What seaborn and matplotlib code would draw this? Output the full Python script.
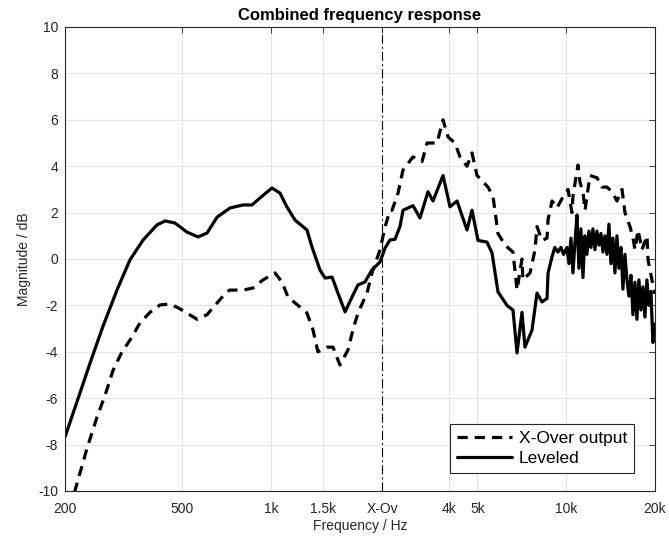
import numpy as np
import pandas as pd
import matplotlib
matplotlib.use("Agg")
import matplotlib.pyplot as plt
import seaborn as sns

# ---- data ----
xover_freq = 2380

lev_freq = [200, 219, 243, 269, 300, 332, 368, 410, 437, 472, 518, 565, 606, 655, 725,
            803, 861, 916, 1006, 1071, 1131, 1204, 1322, 1375, 1463, 1522, 1608, 1684,
            1780, 1879, 1968, 2079, 2196, 2338, 2431, 2528, 2629, 2732, 2798, 3025,
            3194, 3401, 3536, 3823, 4037, 4265, 4610, 4794, 5024, 5390, 5605, 5872,
            6300, 6601, 6812, 7081, 7249, 7659, 7962, 8280, 8610, 8680, 8954, 9150,
            9380, 9600, 9800,
            10060, 10218, 10379, 10542, 10708, 10876, 11047, 11221, 11397, 11576, 11758,
            11943, 12131, 12322, 12516, 12713, 12913, 13116, 13322, 13531, 13744, 13960,
            14180, 14403, 14629, 14859, 15093, 15330, 15571, 15816, 16065, 16318, 16574,
            16835, 17100, 17369, 17642, 17919, 18201, 18487, 18778, 19073, 19373, 19678,
            20000]
lev_db = [-7.67, -6.2, -4.5, -2.9, -1.34, -0.04, 0.82, 1.47, 1.64, 1.55, 1.16, 0.95, 1.12, 1.8, 2.2,
          2.33, 2.33, 2.63, 3.06, 2.84, 2.24, 1.68, 1.25, 0.52, -0.47, -0.82, -0.78, -1.47,
          -2.28, -1.64, -1.12, -0.99, -0.47, -0.13, 0.47, 0.82, 0.85, 1.4, 2.1, 2.3,
          1.77, 2.9, 2.5, 3.6, 2.25, 2.5, 1.25, 2.1, 0.8, 0.73, 0.26, -1.42,
          -2.0, -2.2, -4.05, -2.3, -3.8, -3.06, -1.47, -1.85, -1.7, -0.6, 0.1, 0.5,
          0.3, 0.5, 0.2,
          0.5, -0.2, 0.9, -0.6, 0.7, 1.9, -0.4, 1.3, -0.8, 1.0, 0.2,
          1.2, 0.5, 1.3, 0.4, 1.2, 0.6, 1.1, 0.3, 1.0, 0.2, 1.5,
          -0.2, 0.9, -0.6, 1.0, -0.4, 0.5, -1.3, 0.2, -0.9, -1.6, -0.7,
          -2.4, -1.0, -2.6, -0.9, -2.2, -1.2, -2.5, -0.9, -2.0, -1.4, -3.6,
          -2.8]

xo_freq = [200, 216, 237, 257, 273, 291, 312, 332, 359, 388, 420, 454, 483, 518, 561, 606,
           655, 708, 725, 803, 868, 938, 1030, 1088, 1140, 1252, 1322, 1386, 1440, 1546,
           1620, 1710, 1821, 1892, 1968, 2112, 2196, 2338, 2431, 2528, 2568, 2691,
           2798, 3025, 3246, 3374, 3648, 3823, 3975, 4198, 4366, 4610, 4794, 4985, 5432,
           5648, 5872, 6200, 6601, 6812, 7081, 7136, 7541, 7841, 7962, 8280, 8610, 8680,
           8954, 9300, 9680, 10140, 10460, 10540, 10960, 11140, 11400, 11580, 12040, 12720,
           13220, 13750, 14300, 14860, 15460, 15820, 16450, 16840, 17110, 17510, 18070,
           18790, 18940, 19530, 20000]
xo_db = [-11.5, -10.0, -8.2, -6.8, -5.9, -4.8, -4.0, -3.5, -2.76, -2.3, -1.98, -1.94, -2.1, -2.33, -2.6, -2.4,
         -1.9, -1.4, -1.34, -1.34, -1.25, -0.9, -0.6, -0.99, -1.64, -2.07, -2.33, -3.06, -4.0, -3.8,
         -3.8, -4.57, -3.92, -3.06, -2.33, -1.47, -0.6, 0.39, 1.38, 2.1, 2.1, 2.84,
         3.84, 4.4, 4.2, 5.0, 5.0, 6.0, 5.26, 5.0, 4.4, 4.0, 4.57, 3.6, 3.1,
         2.7, 1.1, 0.6, 0.3, -1.34, 0.0, -0.9, -0.6, 0.4, 1.4, 0.8, 0.9, 1.7,
         2.5, 2.2, 2.6, 3.0, 2.0, 2.7, 4.05, 3.3, 2.9, 2.1, 3.6, 3.5,
         3.1, 3.1, 2.9, 2.5, 3.0, 2.0, 1.4, 0.9, 0.4, 1.25, 0.4,
         1.0, -0.04, -0.9, -1.5]

xtick_vals = [200, 500, 1000, 1500, xover_freq, 4000, 5000, 10000, 20000]
xtick_labels = ["200", "500", "1k", "1.5k", "X-Ov", "4k", "5k", "10k", "20k"]
ytick_vals = list(range(-10, 11, 2))

# ---- plotting ----
sns.set_theme(style="whitegrid")
plt.rcParams["font.family"] = ["Liberation Sans", "DejaVu Sans"]
plt.rcParams["axes.unicode_minus"] = False

fig = plt.figure(figsize=(6.69, 5.44), dpi=100)
ax = fig.add_axes([65/669, 1-491/544, (655-65)/669, (491-27)/544])

df_xo = pd.DataFrame({"f": xo_freq, "db": xo_db})
df_lev = pd.DataFrame({"f": lev_freq, "db": lev_db})

sns.lineplot(data=df_xo, x="f", y="db", ax=ax, color="black", lw=2.3,
             label="X-Over output", sort=False)
sns.lineplot(data=df_lev, x="f", y="db", ax=ax, color="black", lw=2.3,
             label="Leveled", sort=False)
lines = ax.get_lines()
lines[0].set_dashes([3.2, 2.2])
lines[0].set_dash_capstyle("butt")
for ln in lines:
    ln.set_solid_joinstyle("round")

ax.axvline(xover_freq, color="black", lw=0.8, linestyle=(0, (8, 3, 1.5, 3)))

ax.set_xscale("log")
ax.set_xlim(200, 20000)
ax.set_ylim(-10, 10)
ax.set_xticks(xtick_vals)
ax.set_xticklabels(xtick_labels)
ax.xaxis.set_minor_locator(matplotlib.ticker.NullLocator())
ax.set_yticks(ytick_vals)

ax.grid(True, color="#e3e3e3", lw=0.8)
for s in ax.spines.values():
    s.set_color("#262626")
    s.set_linewidth(0.8)
ax.set_facecolor("white")
ax.tick_params(axis="both", which="both", direction="in", length=4, width=0.6,
               colors="#262626", labelsize=10, top=True, right=True,
               labeltop=False, labelright=False)
ax.tick_params(axis="x", pad=8)
ax.tick_params(axis="y", pad=5)

ax.set_xlabel("Frequency / Hz", fontsize=10, color="#262626", labelpad=2)
ax.set_ylabel("Magnitude / dB", fontsize=10, color="#262626", labelpad=5)
ax.set_title("Combined frequency response", fontsize=12, fontweight="bold",
             color="black", pad=5)

leg = ax.legend(loc="lower right", bbox_to_anchor=(0.964, 0.039), fontsize=12.5,
                frameon=True, fancybox=False, handlelength=3.2, handletextpad=0.35,
                borderpad=0.4, labelspacing=0.27, borderaxespad=0)
leg.get_frame().set_edgecolor("#262626")
leg.get_frame().set_linewidth(0.8)
leg.get_frame().set_alpha(1)
for t in leg.get_texts():
    t.set_color("black")

fig.savefig("out.png", dpi=100)
